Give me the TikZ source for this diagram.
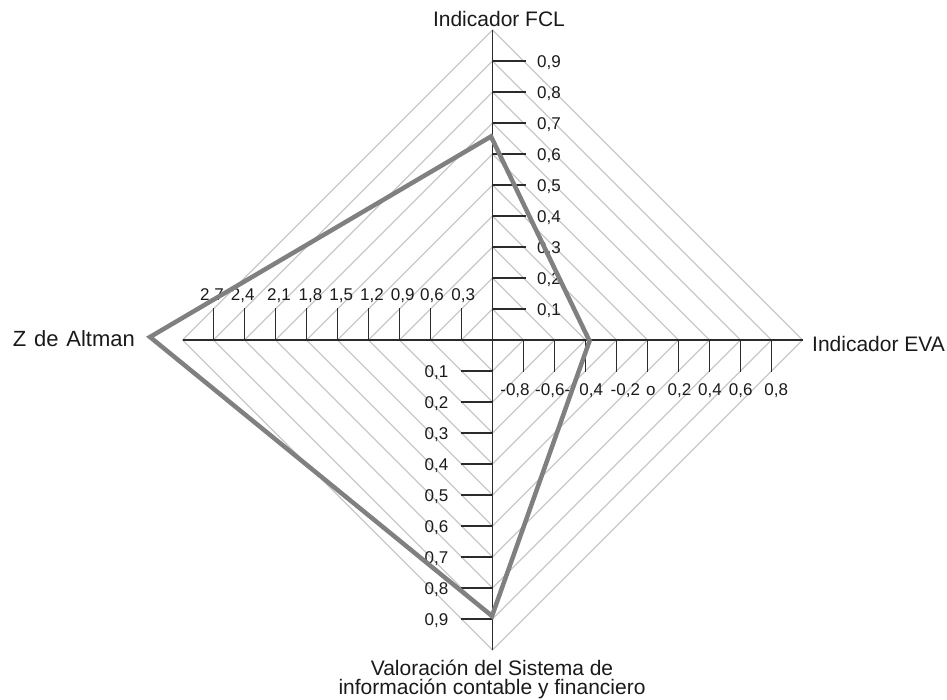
\documentclass[tikz,border=0pt]{standalone}
\usepackage{fontspec}
\setmainfont{Liberation Sans}
\definecolor{axisgray}{HTML}{2B2B2B}
\definecolor{gridgray}{HTML}{C8C8C8}
\definecolor{seriesgray}{HTML}{808080}
\definecolor{textblack}{HTML}{1A1A1A}
\begin{document}
\begin{tikzpicture}[x=1pt,y=-1pt,
  axis/.style={draw=axisgray, line width=1.4pt},
  tickline/.style={draw=axisgray, line width=1.3pt},
  gridline/.style={draw=gridgray, line width=1.1pt},
  series/.style={draw=seriesgray, line width=4.5pt, line join=miter},
  title/.style={font=\fontsize{21}{21}\selectfont, inner sep=0pt, text=textblack},
  num/.style={font=\fontsize{17}{17}\selectfont, inner sep=0pt, text=textblack}]
\useasboundingbox (0,0) rectangle (947,699);

% centre and axis ends
\coordinate (O) at (492.5,340);
\coordinate (T) at (492.5,30);
\coordinate (B) at (492.5,650);
\coordinate (L) at (182.5,340);
\coordinate (R) at (802.5,340);

% concentric diamond grid
\foreach \k in {1,...,10}{
  \draw[gridline] ({492.5},{340-31*\k}) -- ({492.5+31*\k},{340}) -- ({492.5},{340+31*\k}) -- ({492.5-31*\k},{340}) -- cycle;
}

% axes
\draw[axis] (T) -- (B);
\draw[axis] (L) -- (R);

% ticks
\foreach \k in {1,...,9}{
  \draw[tickline] ({492.5},{340-31*\k}) -- ++(33,0);
  \draw[tickline] ({492.5+31*\k},{340}) -- ++(0,32);
  \draw[tickline] ({492.5-31*\k},{340}) -- ++(0,-32);
  \draw[tickline] ({492.5},{340+31*\k}) -- ++(-32,0);
}

% FCL scale (up)
\foreach \k in {1,...,9}{
  \node[num, anchor=base west] (up\k) at (537,{340-31*\k+6.5}) {0,\k};
}
% Valoracion scale (down)
\foreach \k in {1,...,9}{
  \node[num, anchor=base east] (dn\k) at (448.5,{340+31*\k+6.5}) {0,\k};
}
% Altman scale (left)
\foreach \x/\t [count=\i] in {463.3/{0,3},432/{0,6},402.8/{0,9},372/{1,2},341.3/{1,5},310.5/{1,8},279/{2,1},242.8/{2,4},212/{2,7}}{
  \node[num, anchor=base] (lf\i) at (\x,300) {\t};
}
% EVA scale (right)
\foreach \x/\t [count=\i] in {515/{-0,8},552.7/{-0,6-},591.3/{0,4},625.3/{-0,2},650.8/{o},679.5/{0,2},710/{0,4},740.8/{0,6},776.2/{0,8}}{
  \node[num, anchor=base] (rt\i) at (\x,395) {\t};
}

% axis titles
\node[title, anchor=base] (fcl) at (499,26.7) {Indicador FCL};
\node[title, anchor=base west] (eva) at (812,351.7) {Indicador EVA};
\node[title, anchor=base west, font=\fontsize{22}{22}\selectfont] (zalt) at (12.7,346.7) {Z\hspace{7.8pt}de\hspace{7.8pt}Altman};
\node[title, anchor=base] (val1) at (492,675) {Valoración del Sistema de};
\node[title, anchor=base] (val2) at (492,694.5) {información contable y financiero};

% data series
\coordinate (pT) at (491,136.5);
\coordinate (pR) at (589.5,341);
\coordinate (pB) at (492,616);
\coordinate (pL) at (150,337);
\draw[series] (pL) -- (pT) -- (pR) -- (pB) -- cycle;
\end{tikzpicture}
\end{document}
